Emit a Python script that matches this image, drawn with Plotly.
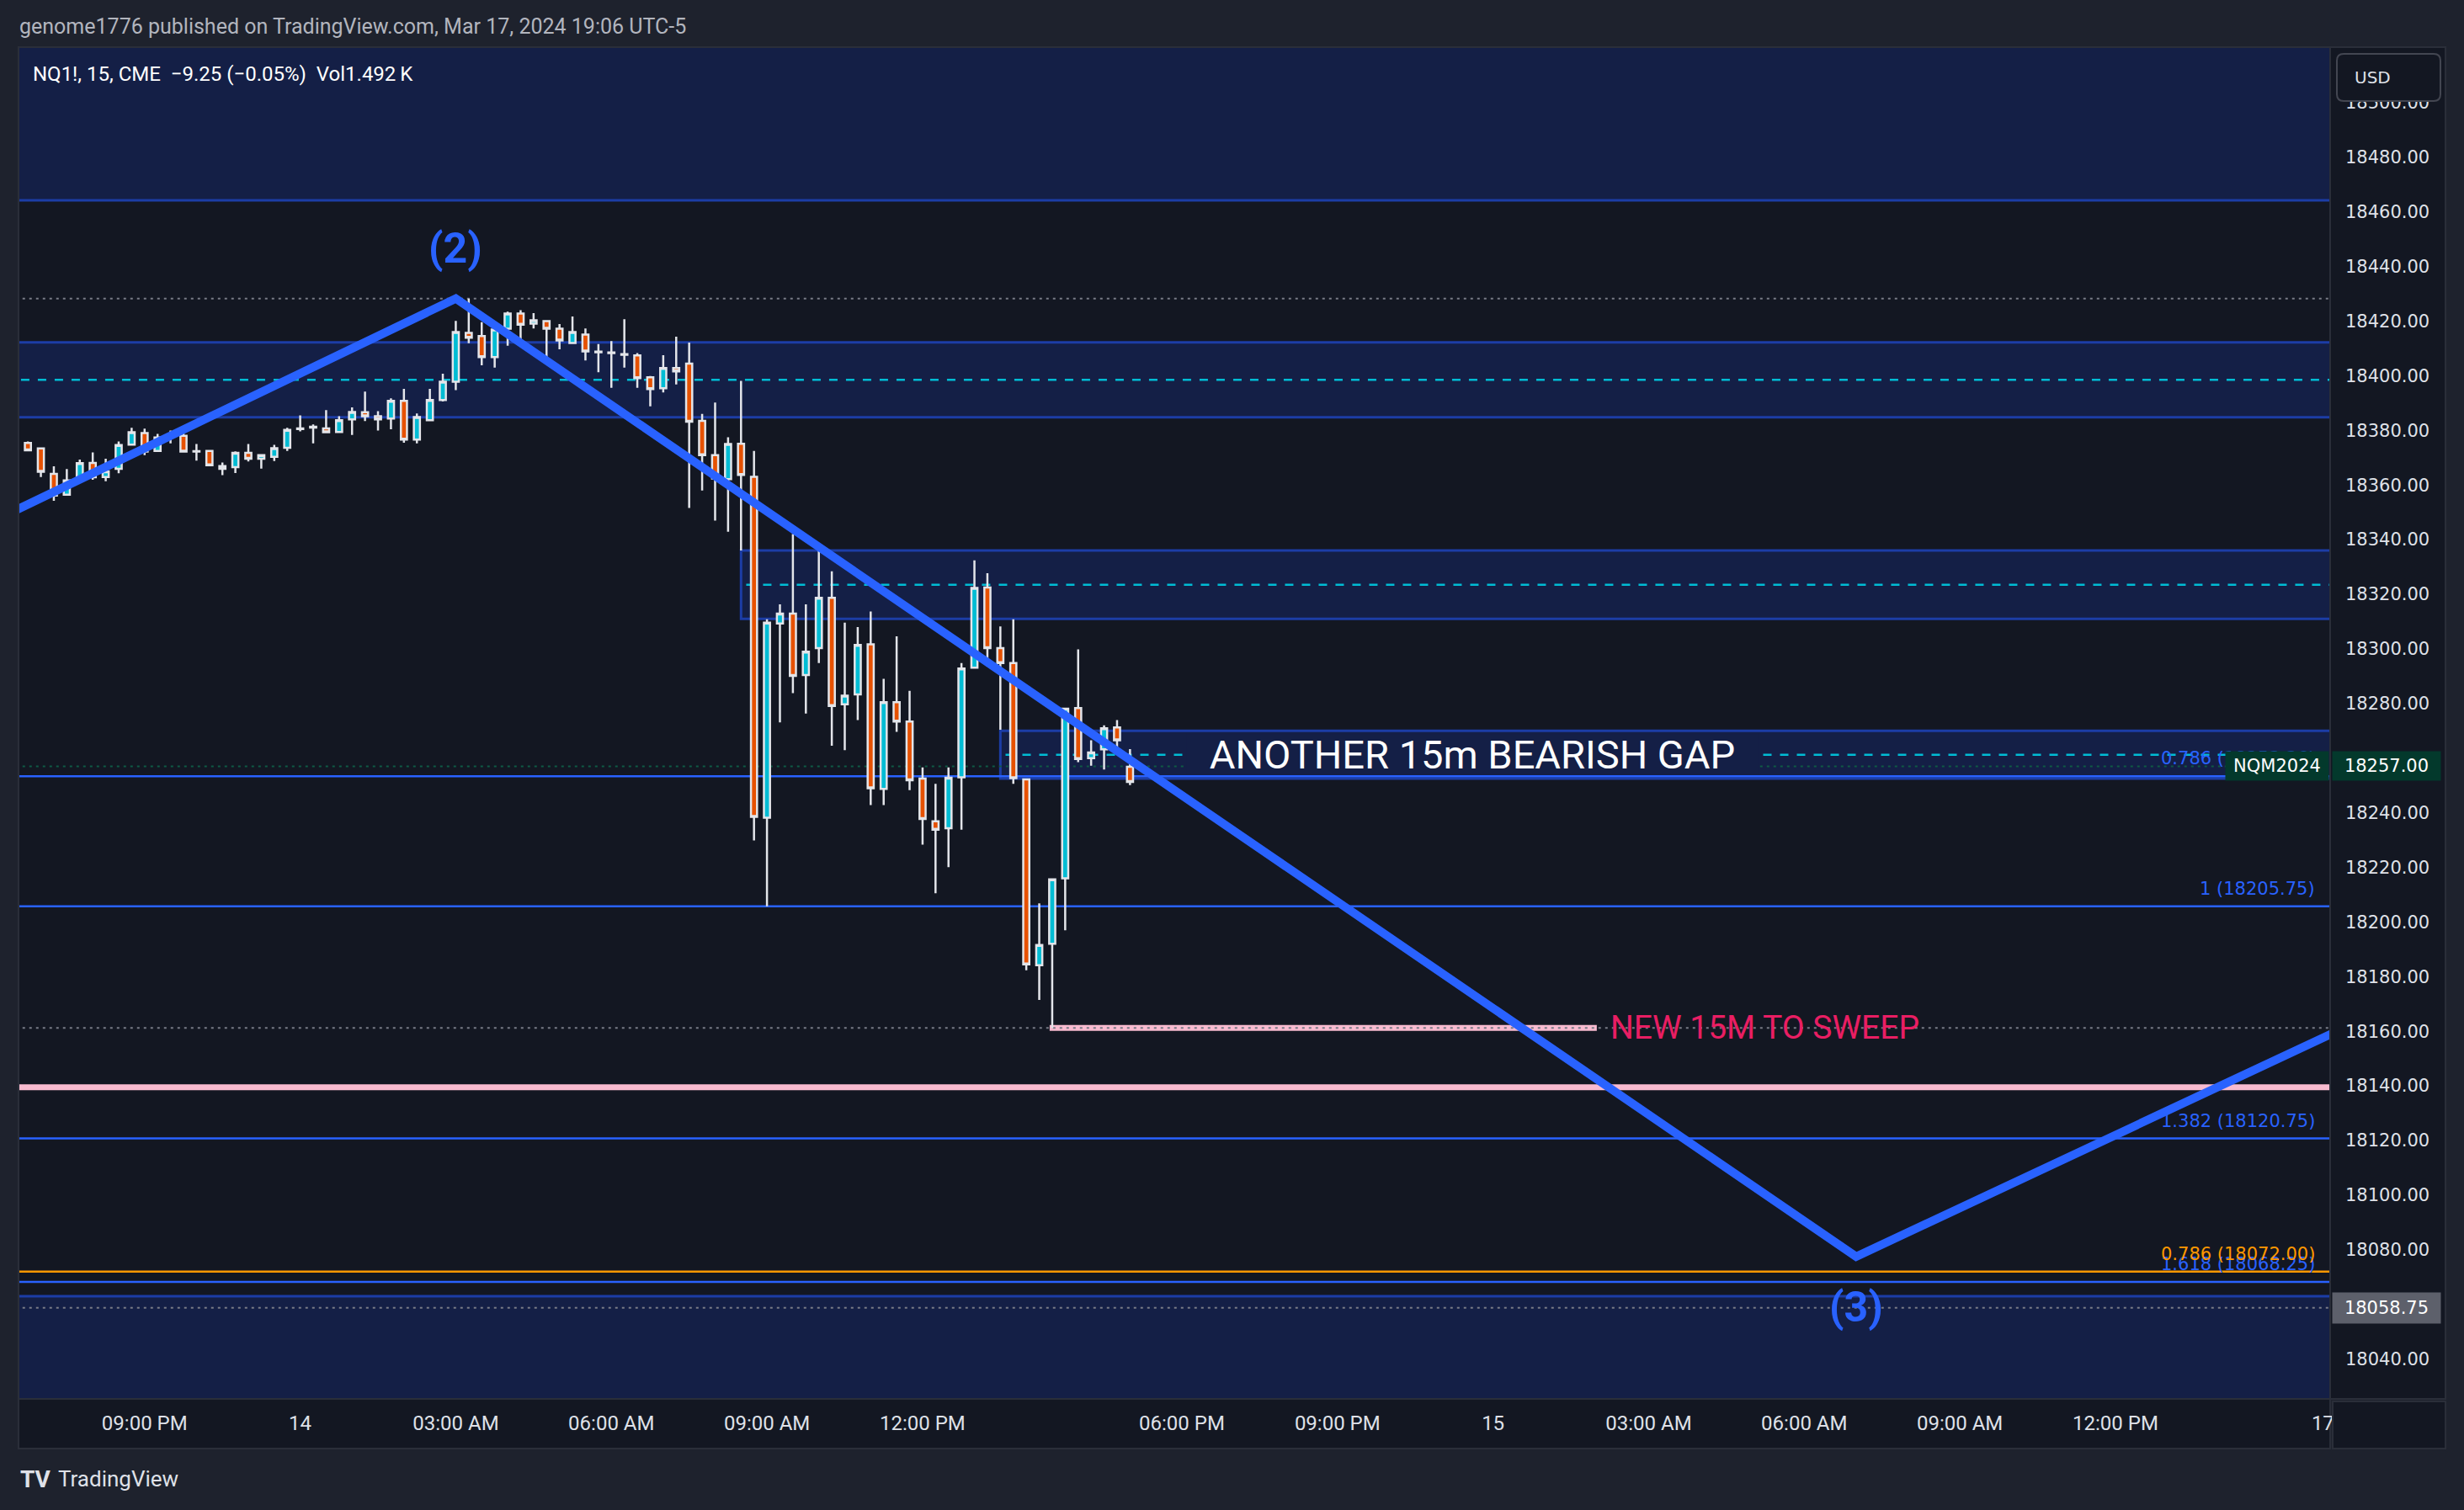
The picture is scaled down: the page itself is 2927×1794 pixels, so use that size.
import plotly.graph_objects as go

# ---------------- data ----------------
# 15-minute bars, x measured in trading hours from Mar 14 00:00 (bar index axis)
bar_first_hour = -5.5
bar_step_hours = 0.25

opens = [18369.6, 18375.4, 18373.4, 18364.1, 18356.4, 18361.9, 18368.1, 18362.9, 18365.9, 18374.8,
         18379.0, 18372.5, 18378.2, 18378.0, 18372.4, 18372.5, 18366.9, 18366.5, 18371.8, 18369.6,
         18370.3, 18373.6, 18380.7, 18381.0, 18380.7, 18379.4, 18384.0, 18386.6, 18385.2, 18384.3,
         18390.8, 18376.6, 18383.7, 18391.1, 18397.8, 18415.7, 18414.5, 18406.8, 18417.2, 18422.8,
         18419.1, 18420.0, 18417.2, 18412.0, 18415.1, 18408.8, 18408.5, 18407.9, 18407.4, 18399.4,
         18395.4, 18402.8, 18404.4, 18383.5, 18370.9, 18362.1, 18375.1, 18363.0, 18238.2, 18309.3,
         18312.9, 18290.4, 18300.3, 18318.7, 18279.7, 18283.3, 18301.7, 18248.7, 18280.5, 18273.4,
         18252.5, 18236.9, 18234.3, 18253.0, 18293.1, 18322.5, 18300.3, 18294.8, 18252.2, 18184.2,
         18192.0, 18216.0, 18278.3, 18260.0, 18263.2, 18271.2, 18256.8]
highs = [18375.2, 18375.9, 18373.6, 18366.8, 18365.8, 18369.3, 18371.9, 18369.6, 18375.9, 18380.9,
         18380.6, 18378.7, 18379.9, 18379.9, 18375.0, 18372.8, 18368.2, 18372.3, 18375.0, 18371.3,
         18374.7, 18380.9, 18385.5, 18382.2, 18387.4, 18385.2, 18388.4, 18394.2, 18387.0, 18391.7,
         18395.2, 18386.2, 18395.2, 18400.7, 18420.1, 18428.25, 18419.6, 18418.9, 18423.5, 18424.0,
         18422.9, 18420.3, 18418.9, 18421.7, 18417.3, 18411.6, 18412.7, 18420.7, 18408.3, 18399.9,
         18407.5, 18414.3, 18412.1, 18386.0, 18390.2, 18377.5, 18398.1, 18372.5, 18310.8, 18316.3,
         18342.0, 18316.3, 18338.0, 18328.4, 18309.6, 18308.0, 18313.7, 18289.0, 18304.6, 18284.6,
         18256.6, 18250.6, 18256.6, 18294.8, 18332.4, 18327.7, 18308.2, 18310.8, 18252.6, 18206.8,
         18215.8, 18278.1, 18299.8, 18266.5, 18272.0, 18273.9, 18263.3]
lows = [18369.3, 18372.5, 18362.9, 18354.2, 18356.2, 18360.9, 18361.9, 18361.4, 18364.3, 18374.5,
        18370.9, 18372.2, 18375.2, 18371.9, 18368.9, 18367.0, 18363.6, 18364.4, 18368.6, 18366.0,
        18368.8, 18372.5, 18379.6, 18375.2, 18379.1, 18379.2, 18378.3, 18383.4, 18379.9, 18380.4,
        18375.5, 18375.2, 18383.4, 18390.6, 18394.7, 18411.9, 18403.8, 18403.0, 18411.0, 18410.7,
        18417.3, 18406.9, 18409.7, 18411.7, 18405.6, 18401.3, 18395.6, 18403.0, 18395.6, 18388.8,
        18393.9, 18396.8, 18351.6, 18358.0, 18347.0, 18342.9, 18336.0, 18229.9, 18205.75, 18273.1,
        18283.8, 18276.3, 18294.8, 18264.5, 18262.9, 18273.9, 18242.8, 18242.8, 18269.6, 18248.3,
        18228.3, 18210.5, 18220.1, 18233.8, 18292.8, 18293.5, 18270.4, 18250.6, 18182.3, 18171.5,
        18161.25, 18197.0, 18258.5, 18257.2, 18255.8, 18261.3, 18250.1]
closes = [18374.7, 18372.7, 18364.8, 18356.1, 18361.7, 18368.0, 18362.8, 18365.0, 18374.6, 18379.3,
          18372.2, 18377.4, 18378.5, 18372.2, 18372.2, 18367.2, 18365.9, 18371.8, 18369.6, 18370.9,
          18373.5, 18380.2, 18380.5, 18381.3, 18379.3, 18383.7, 18386.7, 18385.2, 18384.0, 18390.8,
          18376.6, 18384.9, 18391.1, 18397.8, 18416.0, 18413.9, 18406.8, 18416.9, 18422.8, 18418.7,
          18420.3, 18417.2, 18412.9, 18416.0, 18408.9, 18408.6, 18408.3, 18407.7, 18399.1, 18395.1,
          18402.8, 18401.6, 18383.2, 18370.9, 18362.4, 18375.0, 18363.7, 18238.5, 18309.6, 18312.9,
          18290.1, 18299.0, 18318.7, 18279.1, 18282.9, 18301.4, 18249.0, 18280.5, 18273.4, 18251.9,
          18237.7, 18233.8, 18252.8, 18292.8, 18322.3, 18300.3, 18294.8, 18252.7, 18184.5, 18191.6,
          18215.6, 18278.1, 18259.7, 18262.1, 18270.9, 18266.5, 18251.3]

bar_hours = [bar_first_hour + bar_step_hours * i for i in range(len(opens))]

time_tick_pos = [-3, 0, 3, 6, 9, 12, 17, 20, 23, 26, 29, 32, 35, 39]
time_tick_text = ["09:00 PM", "14", "03:00 AM", "06:00 AM", "09:00 AM", "12:00 PM", "06:00 PM",
                  "09:00 PM", "15", "03:00 AM", "06:00 AM", "09:00 AM", "12:00 PM", "17"]
# 18260 and 18060 sit under the price tags, so they are not shown
price_tick_vals = [18040, 18080, 18100, 18120, 18140, 18160, 18180, 18200, 18220, 18240,
                   18280, 18300, 18320, 18340, 18360, 18380, 18400, 18420, 18440, 18460,
                   18480, 18500]

# Elliott-style projection path
wave_x = [-5.5, 3.0, 30.0, 39.5]
wave_y = [18350.6, 18428.25, 18077.5, 18162.05]
wave_labels = ["(2)", "(3)"]
wave_label_x = [3.0, 30.0]
wave_label_y = [18446.6, 18058.9]

# fair value gap zones
zone_low = [18464.25, 18384.75, 18311.0, 18252.5, 17990.0]
zone_high = [18560.0, 18412.25, 18336.0, 18270.0, 18063.0]
zone_mid = [None, 18398.5, 18323.5, 18261.25, None]
zone_start = [None, None, 8.5, 13.5, None]

fib_levels = [18253.36, 18205.75, 18120.75, 18068.25]
fib_texts = ["0.786 (18253.36)", "1 (18205.75)", "1.382 (18120.75)", "1.618 (18068.25)"]
orange_fib_level = 18072.00
orange_fib_text = "0.786 (18072.00)"

dotted_levels = [18428.25, 18161.25, 18058.75]
pink_level = 18139.5
sweep_level = 18161.25
sweep_x = [14.45, 25.0]
last_price = 18257.00
low_marker_price = 18058.75
gap_text_pos = (22.6, 18261.3)
sweep_text_x = 25.23

# ---------------- styling ----------------
X_MIN, X_MAX = -5.431, 39.14
Y_MIN, Y_MAX = 18025.4, 18520.3
W, H = 2927, 1794
ML, MR, MT, MB = 22, 159, 56, 132
PW, PH = W - ML - MR, H - MT - MB

BG_OUT = "#1e222d"
BG_PLOT = "#131722"
ZONE_FILL = "#141f46"
ZONE_EDGE = "#1c3da6"
BLUE = "#2962ff"
CYAN = "#00bcd4"
GRAY_DOT = "#787b86"
TXT = "#dfe1e8"
MONO = "DejaVu Sans, Verdana, sans-serif"
SANS = "Roboto, Liberation Sans, sans-serif"

def px_x(p):
    return (p - ML) / PW

def px_y(p):
    return 1 - (p - MT) / PH

fig = go.Figure()

shapes = []
# axis panels
shapes.append(dict(type="rect", xref="paper", yref="paper", x0=1.0, x1=px_x(2905), y0=0, y1=1,
                   fillcolor=BG_PLOT, line=dict(color="#2a2e39", width=2), layer="below"))
shapes.append(dict(type="rect", xref="paper", yref="paper", x0=0, x1=1.0, y0=px_y(1721), y1=0,
                   fillcolor=BG_PLOT, line=dict(color="#2a2e39", width=2), layer="below"))

# zones
for lo, hi, mid, st in zip(zone_low, zone_high, zone_mid, zone_start):
    x0 = st if st is not None else X_MIN - 2
    shapes.append(dict(type="rect", xref="x", yref="y", x0=x0, x1=X_MAX + 2, y0=lo, y1=hi,
                       fillcolor=ZONE_FILL, line=dict(color=ZONE_EDGE, width=3), layer="below"))
    if mid is not None:
        shapes.append(dict(type="line", xref="x", yref="y", x0=x0 + 0.1, x1=X_MAX + 2, y0=mid, y1=mid,
                           line=dict(color=CYAN, width=2.5, dash="10px,10px"), layer="below"))

# fib lines
for lv in fib_levels:
    shapes.append(dict(type="line", xref="x", yref="y", x0=X_MIN - 2, x1=X_MAX + 2, y0=lv, y1=lv,
                       line=dict(color=BLUE, width=2.5), layer="below"))
shapes.append(dict(type="line", xref="x", yref="y", x0=X_MIN - 2, x1=X_MAX + 2,
                   y0=orange_fib_level, y1=orange_fib_level,
                   line=dict(color="#ff9800", width=2.5), layer="below"))
# pink levels
shapes.append(dict(type="line", xref="x", yref="y", x0=X_MIN - 2, x1=X_MAX + 2,
                   y0=pink_level, y1=pink_level, line=dict(color="#f8bbd0", width=7), layer="below"))
shapes.append(dict(type="line", xref="x", yref="y", x0=sweep_x[0], x1=sweep_x[1],
                   y0=sweep_level, y1=sweep_level, line=dict(color="#f8bbd0", width=7), layer="below"))
# dotted levels
for lv in dotted_levels:
    shapes.append(dict(type="line", xref="x", yref="y", x0=X_MIN - 2, x1=X_MAX + 2, y0=lv, y1=lv,
                       line=dict(color=GRAY_DOT, width=2, dash="3px,5px"), layer="below"))
# last price line
shapes.append(dict(type="line", xref="x", yref="y", x0=X_MIN - 2, x1=X_MAX + 2,
                   y0=last_price, y1=last_price,
                   line=dict(color="#0f5a45", width=2, dash="3px,5px"), layer="below"))

# USD box (rounded) over the top tick label
ux0, ux1, uy0, uy1 = px_x(2776), px_x(2899), px_y(120), px_y(64)
rx, ry = 8 / PW, 8 / PH
usd_path = (f"M {ux0+rx},{uy1} L {ux1-rx},{uy1} Q {ux1},{uy1} {ux1},{uy1-ry} "
            f"L {ux1},{uy0+ry} Q {ux1},{uy0} {ux1-rx},{uy0} L {ux0+rx},{uy0} "
            f"Q {ux0},{uy0} {ux0},{uy0+ry} L {ux0},{uy1-ry} Q {ux0},{uy1} {ux0+rx},{uy1} Z")
shapes.append(dict(type="path", xref="paper", yref="paper", path=usd_path, fillcolor=BG_PLOT,
                   line=dict(color="#434651", width=2), layer="above"))
# bottom-right corner box
shapes.append(dict(type="rect", xref="paper", yref="paper", x0=px_x(2771), x1=px_x(2905),
                   y0=px_y(1721), y1=px_y(1665), fillcolor=BG_PLOT,
                   line=dict(color="#2a2e39", width=2), layer="above"))
# plot frame
shapes.append(dict(type="rect", xref="paper", yref="paper", x0=0, x1=1, y0=0, y1=1,
                   line=dict(color="#2a2e39", width=2), fillcolor="rgba(0,0,0,0)", layer="above"))

# candles
fig.add_trace(go.Candlestick(
    x=bar_hours, open=opens, high=highs, low=lows, close=closes,
    increasing=dict(fillcolor=CYAN, line=dict(color="#e3e5ea", width=2.5)),
    decreasing=dict(fillcolor="#e65100", line=dict(color="#e3e5ea", width=2.5)),
    whiskerwidth=0, showlegend=False, hoverinfo="skip"))

# projection zigzag
fig.add_trace(go.Scatter(x=wave_x, y=wave_y, mode="lines",
                         line=dict(color=BLUE, width=10), showlegend=False, hoverinfo="skip"))

ann = []
ann.append(dict(xref="paper", yref="paper", x=px_x(21), y=px_y(32), xanchor="left", yanchor="middle",
                text="genome1776 published on TradingView.com, Mar 17, 2024 19:06 UTC-5",
                showarrow=False, font=dict(family=SANS, size=25, color="#b2b5be")))
ann.append(dict(xref="paper", yref="paper", x=px_x(37), y=px_y(88), xanchor="left", yanchor="middle",
                text="NQ1!, 15, CME\u00a0\u00a0\u22129.25 (\u22120.05%)\u00a0\u00a0Vol1.492\u2009K",
                showarrow=False, font=dict(family=SANS, size=24, color="#ffffff")))
for lv, tx in zip(fib_levels, fib_texts):
    ann.append(dict(xref="paper", yref="y", x=px_x(2752), y=lv, xanchor="right", yanchor="bottom",
                    yshift=7, text=tx, showarrow=False, font=dict(family=MONO, size=21, color=BLUE)))
ann.append(dict(xref="paper", yref="y", x=px_x(2752), y=orange_fib_level, xanchor="right",
                yanchor="bottom", yshift=7, text=orange_fib_text, showarrow=False,
                font=dict(family=MONO, size=21, color="#ff9800")))
ann.append(dict(xref="x", yref="y", x=gap_text_pos[0], y=gap_text_pos[1], xanchor="center",
                yanchor="middle", text="ANOTHER 15m BEARISH GAP", showarrow=False,
                bgcolor=ZONE_FILL, width=676, height=44,
                font=dict(family=SANS, size=47, color="#ffffff")))
ann.append(dict(xref="x", yref="y", x=sweep_text_x, y=sweep_level, xanchor="left", yanchor="middle",
                text="NEW 15M TO SWEEP", showarrow=False,
                font=dict(family=SANS, size=39, color="#e91e63")))
for tx, lx, ly in zip(wave_labels, wave_label_x, wave_label_y):
    ann.append(dict(xref="x", yref="y", x=lx, y=ly, xanchor="center", yanchor="middle",
                    text=f"<b>{tx}</b>", showarrow=False,
                    font=dict(family=SANS, size=50, color=BLUE)))
# price-axis tags
ann.append(dict(xref="paper", yref="y", x=px_x(2767), y=last_price, xanchor="right", yanchor="middle",
                text="NQM2024", showarrow=False, bgcolor="#03392c", width=120, height=32,
                font=dict(family=MONO, size=21, color="#ffffff")))
ann.append(dict(xref="paper", yref="y", x=px_x(2770), y=last_price, xanchor="left", yanchor="middle",
                text=f"{last_price:.2f}", showarrow=False, bgcolor="#03392c", width=126, height=32,
                font=dict(family=MONO, size=21, color="#ffffff")))
ann.append(dict(xref="paper", yref="y", x=px_x(2770), y=low_marker_price, xanchor="left",
                yanchor="middle", text=f"{low_marker_price:.2f}", showarrow=False, bgcolor="#5d606b",
                width=126, height=34, font=dict(family=MONO, size=21, color="#ffffff")))
ann.append(dict(xref="paper", yref="paper", x=px_x(2795), y=px_y(92), xanchor="left", yanchor="middle",
                text="USD", showarrow=False, font=dict(family=MONO, size=20, color=TXT)))
ann.append(dict(xref="paper", yref="paper", x=px_x(22), y=px_y(1757), xanchor="left", yanchor="middle",
                text="<b>TV</b>", showarrow=False, font=dict(family=SANS, size=28, color=TXT)))
ann.append(dict(xref="paper", yref="paper", x=px_x(67), y=px_y(1757), xanchor="left", yanchor="middle",
                text="TradingView", showarrow=False, font=dict(family=SANS, size=26, color=TXT)))

fig.update_layout(
    width=W, height=H,
    margin=dict(l=ML, r=MR, t=MT, b=MB, pad=0, autoexpand=False),
    paper_bgcolor=BG_OUT, plot_bgcolor=BG_PLOT,
    boxgap=0.33,
    hovermode=False,
    shapes=shapes, annotations=ann,
    xaxis=dict(range=[X_MIN, X_MAX], tickvals=time_tick_pos, ticktext=time_tick_text,
               showgrid=False, zeroline=False, showline=False, ticks="",
               ticklabelstandoff=12, rangeslider=dict(visible=False),
               tickfont=dict(family=SANS, size=24, color=TXT), fixedrange=True),
    yaxis=dict(range=[Y_MIN, Y_MAX], side="right", tickvals=price_tick_vals,
               ticktext=[f"{v:.2f}" for v in price_tick_vals],
               showgrid=False, zeroline=False, showline=False, ticks="",
               ticklabelstandoff=17,
               tickfont=dict(family=MONO, size=21, color=TXT), fixedrange=True),
)

fig.write_html("out.html", config={"displayModeBar": False},
               post_script="document.body.style.margin='0';"
                           "document.body.style.background='#1e222d';")
